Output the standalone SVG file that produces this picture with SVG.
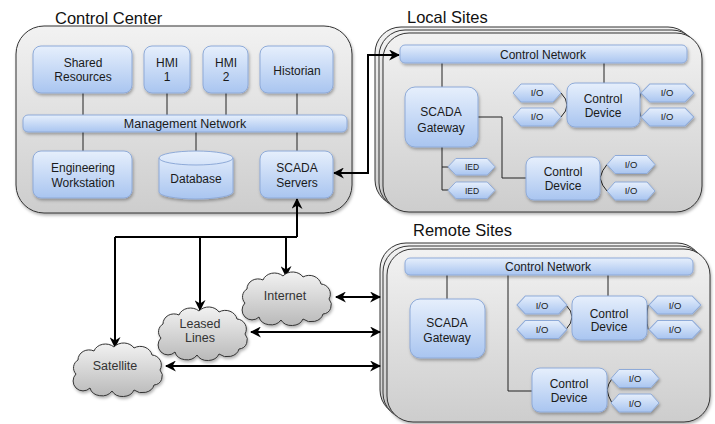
<svg xmlns="http://www.w3.org/2000/svg" width="715" height="424" viewBox="0 0 715 424">
<defs>
<linearGradient id="gPanel" x1="0" y1="0" x2="0" y2="1"><stop offset="0" stop-color="#f2f2f2"/><stop offset="1" stop-color="#cdcdcd"/></linearGradient>
<linearGradient id="gNode" x1="0" y1="0" x2="0" y2="1"><stop offset="0" stop-color="#e6effc"/><stop offset="1" stop-color="#a9c5f0"/></linearGradient>
<linearGradient id="gCloud" x1="0" y1="0" x2="0" y2="1"><stop offset="0" stop-color="#f2f2f2"/><stop offset="1" stop-color="#b9b9b9"/></linearGradient>
<filter id="sh" x="-10%" y="-10%" width="130%" height="140%"><feDropShadow dx="1" dy="2" stdDeviation="1.5" flood-color="#000" flood-opacity="0.3"/></filter>
<marker id="ah" viewBox="0 0 10 10" refX="9" refY="5" markerWidth="5.5" markerHeight="5.5" orient="auto-start-reverse" markerUnits="strokeWidth"><path d="M0,0 L10,5 L0,10 L3,5 Z" fill="#000"/></marker>
<path id="cloud" d="M8,31 A9,9 0 0 1 10,17 A11,10 0 0 1 26,8 A12,10 0 0 1 46,4 A12,10 0 0 1 66,5 A12,11 0 0 1 84,12 A10,10 0 0 1 92,27 A9,9 0 0 1 86,42 A12,10 0 0 1 66,47 A12,10 0 0 1 44,48 A12,10 0 0 1 22,45 A9,9 0 0 1 8,31 Z"/>
<polygon id="hexIO" points="8,0 40,0 48,9 40,18 8,18 0,9"/>
</defs>
<style>
.panel{fill:url(#gPanel);stroke:#333;stroke-width:1}
.node{fill:url(#gNode);stroke:#8eaad8;stroke-width:1;filter:url(#sh)}
.cloud{fill:url(#gCloud);stroke:#333;stroke-width:1;filter:url(#sh)}
.t{font-family:"Liberation Sans",Arial,sans-serif;fill:#1a1a1a;text-anchor:middle}
.n{font-size:12px}
.s{font-size:9.5px}
.xs{font-size:8.5px}
.c{font-size:12.5px;fill:#333}
.title{font-family:"Liberation Sans",Arial,sans-serif;fill:#111;font-size:16.5px}
.ln{fill:none;stroke:#222;stroke-width:1}
.ar{fill:none;stroke:#000;stroke-width:2}
</style>

<g id="control-center">
<text class="title" x="55" y="24">Control Center</text>
<rect class="panel" x="16" y="26" width="336" height="187" rx="28" filter="url(#sh)"/>
</g>

<g id="local-sites">
<text class="title" x="407" y="23">Local Sites</text>
<rect class="panel" x="375" y="27" width="319" height="179" rx="26"/>
<rect class="panel" x="379" y="30" width="319" height="179" rx="26"/>
<rect class="panel" x="383" y="33" width="319" height="179" rx="26" filter="url(#sh)"/>
</g>

<g id="remote-sites">
<text class="title" x="413" y="236">Remote Sites</text>
<rect class="panel" x="380" y="243" width="323" height="173" rx="26"/>
<rect class="panel" x="383" y="246" width="323" height="173" rx="26"/>
<rect class="panel" x="387" y="249" width="323" height="173" rx="26" filter="url(#sh)"/>
</g>

<g id="connectors">
<path class="ln" d="M83,93 V151 M167,93 V115 M226,93 V115 M297,93 V151 M196,132 V151"/>
<path class="ln" d="M442,63 V87 M604,63 V83 M442,147 V190 M442,167 H450 M442,190 H450 M478,117 H502 V178 H526"/>
<path class="ln" d="M561,93 Q567,99 567,105 Q567,111 561,117 M641,93 Q639,99 639,105 Q639,111 641,117 M600,178 Q602,170 607,164.5 M600,178 Q602,186 607,191"/>
<path class="ln" d="M447,275 V299 M608,275 V296 M508,275 V391 H532"/>
<path class="ln" d="M566,305 Q572,311 572,317 Q572,323 566,329.5 M648,305 Q647,311 647,317 Q647,323 648,329.5 M607,390 Q608,384 612,378.5 M607,390 Q608,396 612,403"/>
<path class="ar" d="M334,173 H368 V55 H399" marker-start="url(#ah)" marker-end="url(#ah)"/>
<path class="ar" d="M297,237 V199" marker-end="url(#ah)"/>
<path class="ar" d="M115,237 H297"/>
<path class="ar" d="M115,237 V347" marker-end="url(#ah)"/>
<path class="ar" d="M200,237 V310" marker-end="url(#ah)"/>
<path class="ar" d="M286,237 V276" marker-end="url(#ah)"/>
<path class="ar" d="M336,297 H380" marker-start="url(#ah)" marker-end="url(#ah)"/>
<path class="ar" d="M251,332 H380" marker-start="url(#ah)" marker-end="url(#ah)"/>
<path class="ar" d="M166,366 H380" marker-start="url(#ah)" marker-end="url(#ah)"/>
</g>

<g id="shared-resources"><rect class="node" x="33" y="46" width="99" height="47" rx="8"/><text class="t n" x="83" y="67">Shared</text><text class="t n" x="83" y="81">Resources</text></g>
<g id="hmi1"><rect class="node" x="144" y="46" width="46" height="47" rx="8"/><text class="t n" x="167" y="67">HMI</text><text class="t n" x="167" y="81">1</text></g>
<g id="hmi2"><rect class="node" x="203" y="46" width="45" height="47" rx="8"/><text class="t n" x="226" y="67">HMI</text><text class="t n" x="226" y="81">2</text></g>
<g id="historian"><rect class="node" x="260" y="46" width="73" height="47" rx="8"/><text class="t n" x="297" y="75">Historian</text></g>
<g id="management-network"><rect class="node" x="23" y="115" width="324" height="17" rx="5"/><text class="t" style="font-size:12.5px" x="185" y="128">Management Network</text></g>
<g id="engineering-workstation"><rect class="node" x="33" y="151" width="99" height="47" rx="8"/><text class="t n" x="83" y="172">Engineering</text><text class="t n" x="83" y="187">Workstation</text></g>
<g id="database"><path class="node" d="M159,158 A37,7 0 0 1 233,158 V192 A37,7 0 0 1 159,192 Z"/><path class="ln" style="stroke:#8eaad8" d="M159,158 A37,7 0 0 0 233,158"/><text class="t n" x="196" y="183">Database</text></g>
<g id="scada-servers"><rect class="node" x="260" y="151" width="73" height="47" rx="8"/><text class="t n" x="297" y="172">SCADA</text><text class="t n" x="297" y="187">Servers</text></g>

<g id="local-control-network"><rect class="node" x="400" y="45" width="287" height="18" rx="5"/><text class="t n" x="543" y="59">Control Network</text></g>
<g id="local-scada-gateway"><rect class="node" x="405" y="87" width="73" height="60" rx="10"/><text class="t n" x="441" y="116">SCADA</text><text class="t n" x="441" y="132">Gateway</text></g>
<g id="local-ied1"><use href="#hexIO" class="node" transform="translate(448,158.5) scale(0.98,0.92)"/><text class="t xs" x="472" y="170">IED</text></g>
<g id="local-ied2"><use href="#hexIO" class="node" transform="translate(448,182) scale(0.98,0.92)"/><text class="t xs" x="472" y="193.5">IED</text></g>
<g id="local-control-device1"><rect class="node" x="567" y="83" width="73" height="44" rx="8"/><text class="t n" x="603" y="103">Control</text><text class="t n" x="603" y="117">Device</text></g>
<g id="local-io1"><use href="#hexIO" class="node" transform="translate(513,84)"/><text class="t s" x="537" y="96">I/O</text></g>
<g id="local-io2"><use href="#hexIO" class="node" transform="translate(513,108)"/><text class="t s" x="537" y="120">I/O</text></g>
<g id="local-io3"><use href="#hexIO" class="node" transform="translate(641,84) scale(1.1,1)"/><text class="t s" x="667" y="96">I/O</text></g>
<g id="local-io4"><use href="#hexIO" class="node" transform="translate(641,108) scale(1.1,1)"/><text class="t s" x="667" y="120">I/O</text></g>
<g id="local-control-device2"><rect class="node" x="526" y="157" width="74" height="43" rx="8"/><text class="t n" x="563" y="176">Control</text><text class="t n" x="563" y="190">Device</text></g>
<g id="local-io5"><use href="#hexIO" class="node" transform="translate(607,155.5)"/><text class="t s" x="631" y="167.5">I/O</text></g>
<g id="local-io6"><use href="#hexIO" class="node" transform="translate(607,182)"/><text class="t s" x="631" y="194">I/O</text></g>

<g id="remote-control-network"><rect class="node" x="405" y="258" width="288" height="17" rx="5"/><text class="t n" x="548" y="271">Control Network</text></g>
<g id="remote-scada-gateway"><rect class="node" x="410" y="299" width="75" height="59" rx="10"/><text class="t n" x="447" y="327">SCADA</text><text class="t n" x="447" y="342">Gateway</text></g>
<g id="remote-control-device1"><rect class="node" x="572" y="296" width="75" height="44" rx="8"/><text class="t n" x="609" y="318">Control</text><text class="t n" x="609" y="331">Device</text></g>
<g id="remote-io1"><use href="#hexIO" class="node" transform="translate(517,296) scale(1.04,1)"/><text class="t s" x="542" y="308.5">I/O</text></g>
<g id="remote-io2"><use href="#hexIO" class="node" transform="translate(517,320.5) scale(1.04,1)"/><text class="t s" x="542" y="333">I/O</text></g>
<g id="remote-io3"><use href="#hexIO" class="node" transform="translate(649,296) scale(1.08,1)"/><text class="t s" x="675" y="308.5">I/O</text></g>
<g id="remote-io4"><use href="#hexIO" class="node" transform="translate(649,320.5) scale(1.08,1)"/><text class="t s" x="675" y="333">I/O</text></g>
<g id="remote-control-device2"><rect class="node" x="532" y="368" width="75" height="44" rx="8"/><text class="t n" x="569" y="388">Control</text><text class="t n" x="569" y="402">Device</text></g>
<g id="remote-io5"><use href="#hexIO" class="node" transform="translate(611,369.5)"/><text class="t s" x="635" y="382">I/O</text></g>
<g id="remote-io6"><use href="#hexIO" class="node" transform="translate(611,394)"/><text class="t s" x="635" y="406.5">I/O</text></g>

<g id="internet"><use href="#cloud" class="cloud" transform="translate(237,272)"/><text class="t c" x="285" y="300">Internet</text></g>
<g id="leased-lines"><use href="#cloud" class="cloud" transform="translate(153,307)"/><text class="t c" x="200" y="328">Leased</text><text class="t c" x="200" y="342">Lines</text></g>
<g id="satellite"><use href="#cloud" class="cloud" transform="translate(68,343)"/><text class="t c" x="115" y="370">Satellite</text></g>
</svg>
